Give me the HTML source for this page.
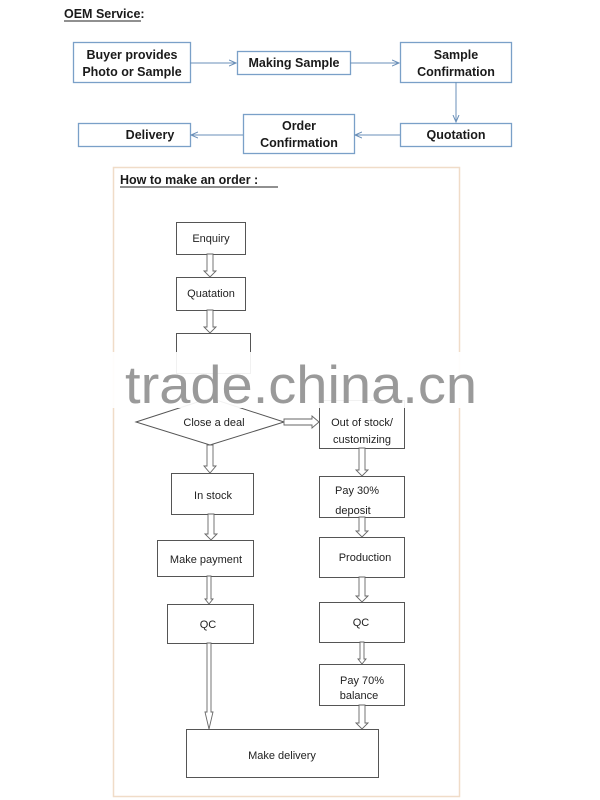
<!DOCTYPE html>
<html><head><meta charset="utf-8"><style>
html,body{margin:0;padding:0;background:#fff;}
svg{display:block;}
.b{font-family:"Liberation Sans",sans-serif;font-weight:bold;font-size:12.5px;fill:#1a1a1a;}
.n{font-family:"Liberation Sans",sans-serif;font-size:11px;fill:#222;}
</style></head><body>
<svg width="600" height="800" viewBox="0 0 600 800" xmlns="http://www.w3.org/2000/svg">
<defs><marker id="ah" markerWidth="8" markerHeight="8" refX="7" refY="4" orient="auto"><path d="M0,1 L7,4 L0,7" fill="none" stroke="#6a8fb8" stroke-width="1"/></marker></defs>
<text x="64" y="18" class="b" font-size="12">OEM Service:</text>
<line x1="64" y1="21" x2="141" y2="21" stroke="#222" stroke-width="1"/>
<g fill="#fff" stroke="#7aa0c8" stroke-width="1.3">
<rect x="73.5" y="42.5" width="117" height="40"/>
<rect x="237.5" y="51.5" width="113" height="23"/>
<rect x="400.5" y="42.5" width="111" height="40"/>
<rect x="78.5" y="123.5" width="112" height="23"/>
<rect x="243.5" y="114.5" width="111" height="39"/>
<rect x="400.5" y="123.5" width="111" height="23"/>
</g>
<g stroke="#6a8fb8" stroke-width="1" fill="none" marker-end="url(#ah)">
<line x1="190" y1="63" x2="236" y2="63"/>
<line x1="350" y1="63" x2="399" y2="63"/>
<line x1="456" y1="82" x2="456" y2="122"/>
<line x1="400" y1="135" x2="355" y2="135"/>
<line x1="243" y1="135" x2="191" y2="135"/>
</g>
<g class="b" text-anchor="middle">
<text x="132" y="59">Buyer provides</text><text x="132" y="76">Photo or Sample</text>
<text x="294" y="67">Making Sample</text>
<text x="456" y="59">Sample</text><text x="456" y="76">Confirmation</text>
<text x="150" y="139">Delivery</text>
<text x="299" y="130">Order</text><text x="299" y="147">Confirmation</text>
<text x="456" y="139">Quotation</text>
</g>
<rect x="113.5" y="167.5" width="346" height="629" fill="none" stroke="#f0dcc8" stroke-width="1.5"/>
<text x="120" y="184" class="b" font-size="13">How to make an order :</text>
<line x1="120" y1="187" x2="278" y2="187" stroke="#222" stroke-width="1"/>
<g fill="#fff" stroke="#555" stroke-width="1">
<rect x="176.5" y="222.5" width="69" height="32"/>
<rect x="176.5" y="277.5" width="69" height="33"/>
<rect x="176.5" y="333.5" width="74" height="40"/>
<polygon points="136,422 210,398 284,422 210,445"/>
<rect x="319.5" y="400.5" width="85" height="48"/>
<rect x="171.5" y="473.5" width="82" height="41"/>
<rect x="319.5" y="476.5" width="85" height="41"/>
<rect x="157.5" y="540.5" width="96" height="36"/>
<rect x="319.5" y="537.5" width="85" height="40"/>
<rect x="167.5" y="604.5" width="86" height="39"/>
<rect x="319.5" y="602.5" width="85" height="40"/>
<rect x="319.5" y="664.5" width="85" height="41"/>
<rect x="186.5" y="729.5" width="192" height="48"/>
</g>
<g fill="#fff" stroke="#666" stroke-width="0.9">
<polygon points="207,254 213,254 213,271 216,271 210,277 204,271 207,271"/>
<polygon points="207,310 213,310 213,327 216,327 210,333 204,327 207,327"/>
<polygon points="207,445 213,445 213,466 216,466 210,473 204,466 207,466"/>
<polygon points="208,514 214,514 214,534 217,534 211,540 205,534 208,534"/>
<polygon points="207,576 211,576 211,599 213,599 209,604 205,599 207,599"/>
<polygon points="207,643 211,643 211,712 213,712 209,729 205,712 207,712"/>
<polygon points="359,448 365,448 365,470 368,470 362,476 356,470 359,470"/>
<polygon points="359,517 365,517 365,531 368,531 362,537 356,531 359,531"/>
<polygon points="359,577 365,577 365,596 368,596 362,602 356,596 359,596"/>
<polygon points="360,642 364,642 364,659 366,659 362,664 358,659 360,659"/>
<polygon points="359,705 365,705 365,723 368,723 362,729 356,723 359,723"/>
<polygon points="284,419 312,419 312,416 319,422 312,428 312,425 284,425"/>
</g>
<g class="n" text-anchor="middle">
<text x="211" y="242">Enquiry</text>
<text x="211" y="297">Quatation</text>
<text x="214" y="426">Close a deal</text>
<text x="362" y="426">Out of stock/</text>
<text x="362" y="443">customizing</text>
<text x="213" y="499">In stock</text>
<text x="357" y="494">Pay 30%</text>
<text x="353" y="514">deposit</text>
<text x="206" y="563">Make payment</text>
<text x="365" y="561">Production</text>
<text x="208" y="628">QC</text>
<text x="361" y="626">QC</text>
<text x="362" y="684">Pay 70%</text>
<text x="359" y="699">balance</text>
<text x="282" y="759">Make delivery</text>
</g>
<rect x="110" y="352" width="365" height="56" fill="#fff" opacity="0.92"/>
<text x="125" y="403" font-family="Liberation Sans,sans-serif" font-size="53" fill="#9a9a9a" textLength="352" lengthAdjust="spacingAndGlyphs">trade.china.cn</text>
</svg>
</body></html>
